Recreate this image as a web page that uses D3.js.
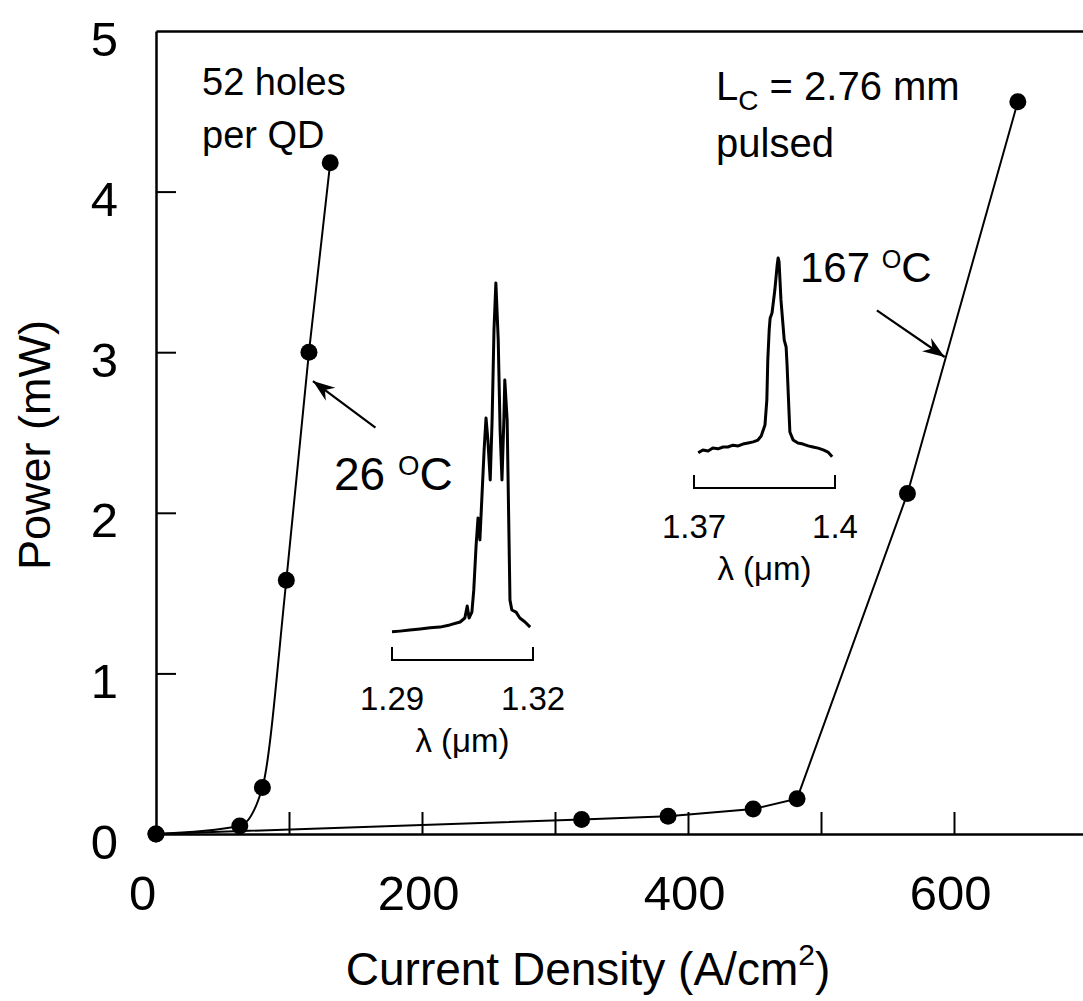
<!DOCTYPE html>
<html>
<head>
<meta charset="utf-8">
<script src="https://cdn.jsdelivr.net/npm/d3@7"></script>
<style>
  body { margin: 0; background: #fff; }
  svg { font-family: "Liberation Sans", Arial, Helvetica, sans-serif; }
  .axis path, .axis line { stroke: #000; }
  .axis text { fill: #000; }
</style>
</head>
<body>
<script>
// L-I curves: current density (A/cm2) vs power (mW)
const j26 = [0, 63, 80, 98, 115, 131];
const p26 = [0, 0.05, 0.29, 1.58, 3.0, 4.18];

const j167 = [0, 320, 385, 449, 482, 565, 648];
const p167 = [0, 0.09, 0.11, 0.155, 0.22, 2.12, 4.56];

const xTicks = [0, 100, 200, 300, 400, 500, 600];
const xLabels = [0, 200, 400, 600];
const yTicks = [0, 1, 2, 3, 4, 5];

// inset spectra, wavelength (um) vs intensity (arb. units)
const lam26 = [1.2900, 1.2917, 1.2938, 1.2960, 1.2981, 1.3002, 1.3023, 1.3045, 1.3055, 1.3060,
  1.3064, 1.3070, 1.3074, 1.3079, 1.3083, 1.3087, 1.3091, 1.3096, 1.3100, 1.3104, 1.3109,
  1.3113, 1.3117, 1.3121, 1.3126, 1.3130, 1.3134, 1.3138, 1.3140, 1.3145, 1.3149, 1.3151,
  1.3155, 1.3164, 1.3172, 1.3183, 1.3194];
const int26 = [0.036, 0.038, 0.041, 0.044, 0.047, 0.049, 0.055, 0.063, 0.074, 0.107,
  0.074, 0.090, 0.151, 0.274, 0.348, 0.288, 0.397, 0.534, 0.622, 0.562, 0.452,
  0.616, 0.863, 0.992, 0.836, 0.589, 0.452, 0.616, 0.726, 0.616, 0.288, 0.123,
  0.096, 0.090, 0.074, 0.063, 0.049];

const lam167 = [1.3709, 1.3719, 1.3730, 1.3740, 1.3751, 1.3762, 1.3772, 1.3783, 1.3794, 1.3804,
  1.3815, 1.3826, 1.3836, 1.3843, 1.3851, 1.3855, 1.3857, 1.3860, 1.3862, 1.3866, 1.3872,
  1.3877, 1.3879, 1.3881, 1.3885, 1.3892, 1.3896, 1.3898, 1.3902, 1.3904, 1.3911, 1.3921,
  1.3932, 1.3943, 1.3953, 1.3964, 1.3975, 1.3985, 1.3994];
const int167 = [0.047, 0.055, 0.052, 0.060, 0.058, 0.063, 0.063, 0.068, 0.066, 0.071,
  0.074, 0.077, 0.082, 0.093, 0.123, 0.192, 0.301, 0.384, 0.416, 0.430, 0.493,
  0.562, 0.581, 0.570, 0.466, 0.356, 0.337, 0.288, 0.164, 0.104, 0.082, 0.074,
  0.071, 0.066, 0.063, 0.060, 0.055, 0.049, 0.036];

const W = 1083, H = 1001;
const svg = d3.select("body").append("svg").attr("width", W).attr("height", H);

const x = d3.scaleLinear().domain([0, 700]).range([156, 1087]);
const y = d3.scaleLinear().domain([0, 5]).range([834, 31]);

// axes
const xAxis = svg.append("g").attr("class", "axis")
  .attr("transform", `translate(0,${y(0)})`)
  .call(d3.axisBottom(x).tickValues(xTicks).tickSizeInner(-22).tickSizeOuter(0)
    .tickPadding(41).tickFormat(d => xLabels.includes(d) ? d : ""));
xAxis.select(".domain").attr("stroke-width", 2.5);
xAxis.selectAll(".tick line").attr("stroke-width", 2).filter(d => d === 0).remove();
xAxis.selectAll(".tick text").attr("font-size", 49).attr("dx", d => d === 0 ? -14 : -4);

const yAxis = svg.append("g").attr("class", "axis")
  .attr("transform", `translate(${x(0)},0)`)
  .call(d3.axisLeft(y).tickValues(yTicks).tickSizeInner(-20).tickSizeOuter(0)
    .tickPadding(38).tickFormat(d3.format("d")));
yAxis.select(".domain").attr("stroke-width", 2.5);
yAxis.selectAll(".tick line").attr("stroke-width", 2).filter(d => d === 0 || d === 5).remove();
yAxis.selectAll(".tick text").attr("font-size", 49).attr("dy", "0.49em");

const topAxis = svg.append("g").attr("class", "axis")
  .attr("transform", `translate(0,${y(5)})`)
  .call(d3.axisTop(x).tickValues([]).tickSizeOuter(0));
topAxis.select(".domain").attr("stroke-width", 2.5);

// axis titles
svg.append("text")
  .attr("x", 588).attr("y", 985)
  .attr("text-anchor", "middle").attr("font-size", 46)
  .call(t => {
    t.append("tspan").text("Current Density (A/cm");
    t.append("tspan").attr("font-size", 30).attr("dy", -20).text("2");
    t.append("tspan").attr("dy", 20).text(")");
  });

svg.append("text")
  .attr("transform", "translate(50,445) rotate(-90)")
  .attr("text-anchor", "middle").attr("font-size", 45)
  .text("Power (mW)");

// L-I curves
const lineSmooth = d3.line().x(d => x(d[0])).y(d => y(d[1])).curve(d3.curveMonotoneX);
const lineStraight = d3.line().x(d => x(d[0])).y(d => y(d[1]));

const s26 = j26.map((j, i) => [j, p26[i]]);
const s167 = j167.map((j, i) => [j, p167[i]]);

svg.append("path").datum(s26).attr("d", lineSmooth)
  .attr("fill", "none").attr("stroke", "#000").attr("stroke-width", 2);
svg.append("path").datum(s167).attr("d", lineStraight)
  .attr("fill", "none").attr("stroke", "#000").attr("stroke-width", 2);

svg.append("g").selectAll("circle").data(s26.concat(s167)).join("circle")
  .attr("cx", d => x(d[0])).attr("cy", d => y(d[1])).attr("r", 8.5)
  .attr("fill", "#000");

// arrows pointing at the curves
const arrows = [
  { from: [165, 2.53], to: [118, 2.82] },
  { from: [542, 3.26], to: [593, 2.97] }
];
arrows.forEach(a => {
  const x1 = x(a.from[0]), y1 = y(a.from[1]), x2 = x(a.to[0]), y2 = y(a.to[1]);
  const ang = Math.atan2(y2 - y1, x2 - x1);
  svg.append("line").attr("x1", x1).attr("y1", y1).attr("x2", x2).attr("y2", y2)
    .attr("stroke", "#000").attr("stroke-width", 2.2);
  const L = 22, hw = 8, back = 15;
  const bx = x2 - L * Math.cos(ang), by = y2 - L * Math.sin(ang);
  const nx = -Math.sin(ang), ny = Math.cos(ang);
  const mx = x2 - back * Math.cos(ang), my = y2 - back * Math.sin(ang);
  svg.append("path")
    .attr("d", `M${x2},${y2}L${bx + nx * hw},${by + ny * hw}L${mx},${my}L${bx - nx * hw},${by - ny * hw}Z`)
    .attr("fill", "#000");
});

// text annotations
function degLabel(px, py, num, fs) {
  const t = svg.append("text").attr("x", px).attr("y", py).attr("font-size", fs);
  t.append("tspan").text(num + " ");
  t.append("tspan").attr("font-size", fs * 0.6).attr("dy", -fs * 0.33).text("O");
  t.append("tspan").attr("dy", fs * 0.33).text("C");
}
degLabel(334, 490, "26", 46);
degLabel(800, 282, "167", 42);

svg.append("text").attr("x", 202).attr("y", 95).attr("font-size", 38).text("52 holes");
svg.append("text").attr("x", 202).attr("y", 148).attr("font-size", 38).text("per QD");

svg.append("text").attr("x", 716).attr("y", 100).attr("font-size", 40)
  .call(t => {
    t.append("tspan").text("L");
    t.append("tspan").attr("font-size", 28).attr("dy", 10).text("C");
    t.append("tspan").attr("dy", -10).text(" = 2.76 mm");
  });
svg.append("text").attr("x", 716).attr("y", 157).attr("font-size", 40).text("pulsed");

// inset spectra
function inset(lams, ints, dom, xr, yr, bracketY, tickLabels) {
  const ix = d3.scaleLinear().domain(dom).range(xr);
  const iy = d3.scaleLinear().domain([0, 1]).range(yr);
  const g = svg.append("g");
  g.append("path").datum(lams.map((l, i) => [l, ints[i]]))
    .attr("d", d3.line().x(d => ix(d[0])).y(d => iy(d[1])))
    .attr("fill", "none").attr("stroke", "#000").attr("stroke-width", 3)
    .attr("stroke-linejoin", "round");
  g.append("path")
    .attr("d", `M${ix(dom[0])},${bracketY - 13}V${bracketY}H${ix(dom[1])}V${bracketY - 13}`)
    .attr("fill", "none").attr("stroke", "#000").attr("stroke-width", 2);
  g.selectAll("text.tl").data(dom).join("text").attr("class", "tl")
    .attr("x", d => ix(d)).attr("y", bracketY + 50)
    .attr("text-anchor", "middle").attr("font-size", 33)
    .text((d, i) => tickLabels[i]);
  g.append("text").attr("x", (ix(dom[0]) + ix(dom[1])) / 2).attr("y", bracketY + 92)
    .attr("text-anchor", "middle").attr("font-size", 33)
    .text("λ (μm)");
}
inset(lam26, int26, [1.29, 1.32], [392, 533], [645, 280], 660, ["1.29", "1.32"]);
inset(lam167, int167, [1.37, 1.40], [694, 835], [470, 105], 488, ["1.37", "1.4"]);
</script>
</body>
</html>
